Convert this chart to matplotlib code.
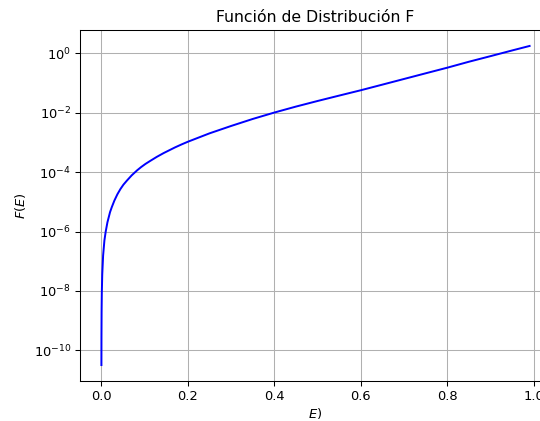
import numpy as np
import matplotlib
matplotlib.use('Agg')
import matplotlib.pyplot as plt

# valores
E = np.array([0.00007, 0.0002, 0.0005, 0.001, 0.002, 0.004, 0.007, 0.010, 0.014, 0.02,
              0.024, 0.03, 0.037, 0.044, 0.051, 0.059, 0.07, 0.0825, 0.092, 0.102,
              0.113, 0.128, 0.144, 0.17, 0.185, 0.2,
              0.25, 0.3, 0.35, 0.4, 0.45, 0.5, 0.55, 0.6, 0.65, 0.7,
              0.75, 0.8, 0.85, 0.9, 0.95, 0.99])
F = np.array([3.2e-11, 2.9e-10, 2.0e-9, 8.5e-9, 3.6e-8, 1.55e-7, 5.0e-7, 1.0e-6, 2.05e-6, 4.5e-6,
              6.6e-6, 1.1e-5, 1.8e-5, 2.7e-5, 3.8e-5, 5.2e-5, 7.8e-5, 1.15e-4, 1.49e-4, 1.9e-4,
              2.4e-4, 3.27e-4, 4.4e-4, 6.8e-4, 8.55e-4, 1.06e-3,
              2.03e-3, 3.6e-3, 6.2e-3, 1.02e-2, 1.62e-2, 2.5e-2, 3.8e-2, 5.75e-2, 8.9e-2, 0.138,
              0.214, 0.331, 0.525, 0.81, 1.26, 1.78])

dpi = 94
fig = plt.figure(figsize=(540 / dpi, 421 / dpi), dpi=dpi)
# el eje se sale un poco por la derecha, como en la captura
ax = fig.add_axes([80 / 540, 40 / 421, 471 / 540, 351 / 421])

ax.plot(E, F, 'b', linewidth=1.5)
ax.set_yscale('log')
ax.set_title('Función de Distribución F')
ax.set_xlabel('$E$)', labelpad=2)
ax.set_ylabel('$F(E)$')
ax.grid(True)

fig.savefig('out.png', dpi=dpi)
